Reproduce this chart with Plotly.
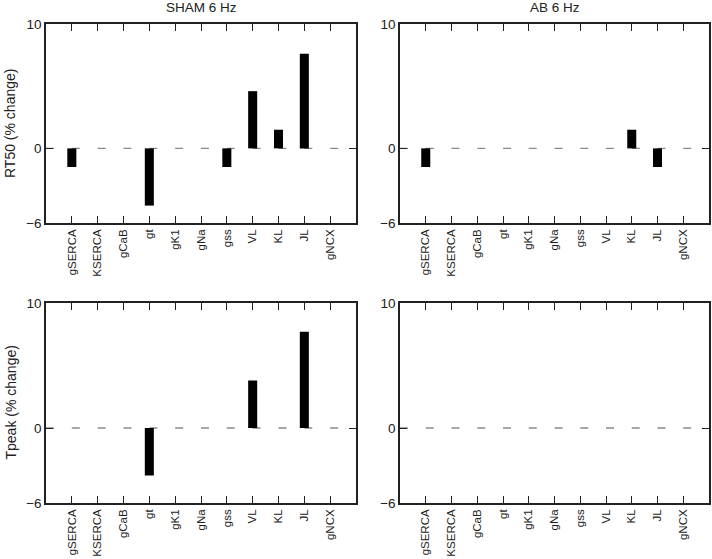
import plotly.graph_objects as go

categories = ["gSERCA", "KSERCA", "gCaB", "gt", "gK1", "gNa", "gss", "VL", "KL", "JL", "gNCX"]
rt50_sham = [-1.5, 0, 0, -4.6, 0, 0, -1.5, 4.6, 1.5, 7.6, 0]
rt50_ab = [-1.5, 0, 0, 0, 0, 0, 0, 0, 1.5, -1.5, 0]
tpeak_sham = [0, 0, 0, -3.8, 0, 0, 0, 3.8, 0, 7.7, 0]
tpeak_ab = [0, 0, 0, 0, 0, 0, 0, 0, 0, 0, 0]
panel_titles = ["SHAM 6 Hz", "AB 6 Hz"]
row_titles = ["RT50 (% change)", "Tpeak (% change)"]
y_ticks = [-6, 0, 10]

W, H = 712, 559
FONT = "Liberation Sans, Arial, sans-serif"

panels = [
    (rt50_sham, (46, 356), (24, 223)),
    (rt50_ab, (400, 709), (24, 223)),
    (tpeak_sham, (46, 356), (303, 503)),
    (tpeak_ab, (400, 709), (303, 503)),
]

fig = go.Figure()
layout = dict(
    width=W, height=H, margin=dict(l=0, r=0, t=0, b=0, autoexpand=False),
    plot_bgcolor="white", paper_bgcolor="white", showlegend=False,
    font=dict(family=FONT, color="black", size=11),
)
shapes = []
annotations = []
xs = list(range(len(categories)))
for i, (vals, (x0, x1), (yt, yb)) in enumerate(panels):
    n = "" if i == 0 else str(i + 1)
    fig.add_trace(go.Bar(x=xs, y=vals, width=0.35, marker=dict(color="black", line=dict(width=0)),
                         xaxis="x" + n, yaxis="y" + n, hoverinfo="skip"))
    layout["xaxis" + n] = dict(
        domain=[x0 / W, x1 / W], anchor="y" + n, range=[-1, len(categories)], automargin=False,
        tickmode="array", tickvals=xs, ticktext=categories, tickangle=-90,
        ticks="inside", ticklen=7, tickwidth=1.3, tickcolor="#222",
        showline=True, linecolor="#222", linewidth=1.5, mirror="ticks",
        showgrid=False, zeroline=False, tickfont=dict(size=11.5, family=FONT, color="#222"),
    )
    layout["yaxis" + n] = dict(
        domain=[(H - yb) / H, (H - yt) / H], anchor="x" + n, range=[-6, 10], automargin=False,
        tickmode="array", tickvals=y_ticks, ticks="inside", ticklen=7, tickwidth=1.3,
        tickcolor="#222", showline=True, linecolor="#222", linewidth=1.5, mirror="ticks",
        showgrid=False, zeroline=False, tickfont=dict(size=13.5, family=FONT, color="#222"),
    )
    period = (x1 - x0) / 12
    shapes.append(dict(type="line", xref="x" + n, yref="y" + n, x0=-1, x1=len(categories), y0=0, y1=0,
                       line=dict(color="#8a8a8a", width=1.3, dash=f"8px,{period - 8:.2f}px"), layer="below"))

for j, t in enumerate(panel_titles):
    x0, x1 = panels[j][1]
    annotations.append(dict(text=t, xref="paper", yref="paper", x=(x0 + x1) / 2 / W, y=(H - 8) / H,
                            showarrow=False, font=dict(size=13.5, family=FONT, color="#222"),
                            xanchor="center", yanchor="middle"))
for r, t in enumerate(row_titles):
    yt, yb = panels[2 * r][2]
    annotations.append(dict(text=t, xref="paper", yref="paper", x=10.5 / W, y=(H - (yt + yb) / 2) / H,
                            showarrow=False, textangle=-90, font=dict(size=14, family=FONT, color="#222"),
                            xanchor="center", yanchor="middle"))

layout["shapes"] = shapes
layout["annotations"] = annotations
fig.update_layout(**layout)
post = ("document.body.style.margin='0';document.body.style.overflow='hidden';"
        "var gd=document.getElementById('{plot_id}');"
        "Plotly.relayout(gd,{width:%d,height:%d});" % (W, H))
fig.write_html("out.html", post_script=post, config={"displayModeBar": False})
